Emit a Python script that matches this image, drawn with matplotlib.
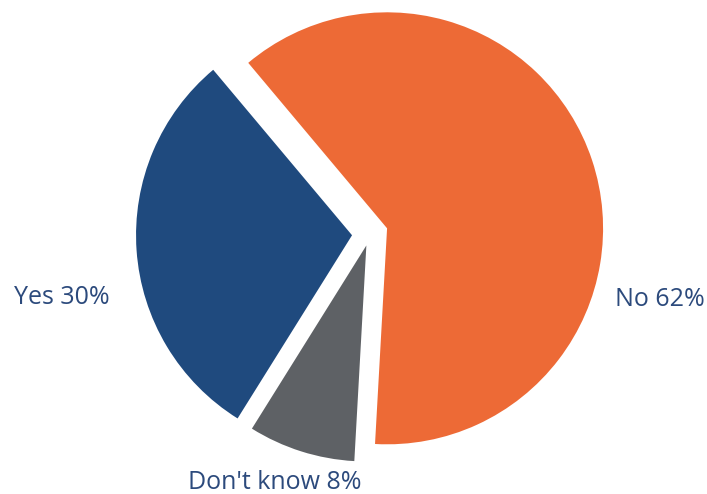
import matplotlib.pyplot as plt
import numpy as np

# survey answers
labels = ['No', "Don't know", 'Yes']
shares = [62, 8, 30]
colors = ['#ED6A36', '#5E6165', '#1F4A7E']

label_color = '#2C4A7C'

W, H = 707, 494
fig = plt.figure(figsize=(W / 100, H / 100), dpi=100)
ax = fig.add_axes([0, 0, 1, 1])

# pixel-like data coordinates, y up
center = (370, H - 234)
radius = 216
# explode is in data units here (not a fraction of the radius)
explode = [18, 12, 18]

wedges, _ = ax.pie(shares, colors=colors, explode=explode, startangle=130,
                   counterclock=False, center=center, radius=radius,
                   wedgeprops={'linewidth': 0})

ax.set_xlim(0, W)
ax.set_ylim(0, H)
ax.set_aspect('equal')
ax.axis('off')

# label offsets from the pie centre (pixels)
offsets = [(290, -66), (-95, -248), (-308, -64)]
for lab, val, (dx, dy) in zip(labels, shares, offsets):
    ax.text(center[0] + dx, center[1] + dy, '{0} {1}%'.format(lab, val),
            ha='center', va='center', color=label_color,
            fontsize=18, family='Open Sans')

fig.savefig('out.png', dpi=100)
